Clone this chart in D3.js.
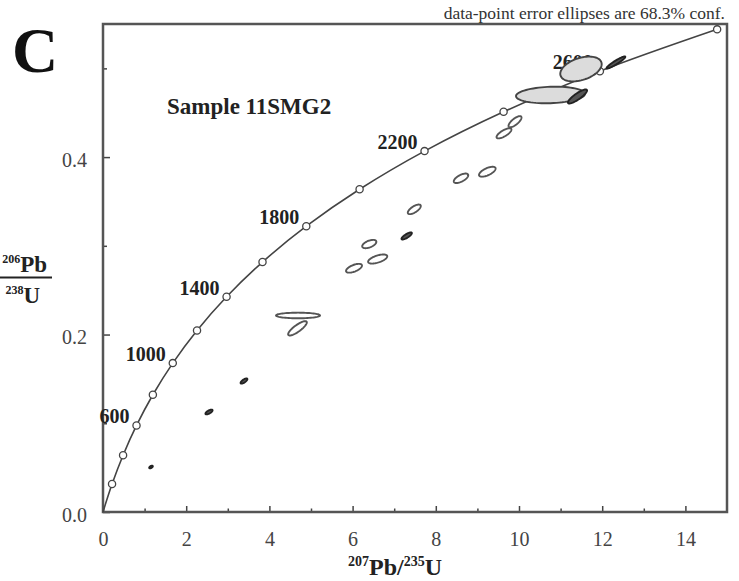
<!DOCTYPE html>
<html>
<head>
<meta charset="utf-8">
<script src="https://cdn.jsdelivr.net/npm/d3@7"></script>
<style>
  body { margin: 0; background: #fff; }
  svg { display: block; font-family: "Liberation Serif", "Times New Roman", serif; }
</style>
</head>
<body>
<svg id="chart"></svg>
<script>
// Set up the chart dimensions
const width = 739;
const height = 581;
const margin = { top: 24, right: 12, bottom: 69, left: 103 };

// Axis ticks
const xMajorTicks = [0, 2, 4, 6, 8, 10, 12, 14];
const xMinorTicks = [1, 3, 5, 7, 9, 11, 13];
const yMajorTicks = [0, 0.2, 0.4];
const yMinorTicks = [0.1, 0.3, 0.5];

// Concordia age marks (Ma) and their ratios
const ages = [0, 200, 400, 600, 800, 1000, 1200, 1400, 1600, 1800, 2000, 2200, 2400, 2600, 2800];
const pb207u235 = [0, 0.2177, 0.4828, 0.8057, 1.1988, 1.6774, 2.2603, 2.9703, 3.8345, 4.8868, 6.1683, 7.7292, 9.6299, 11.944, 14.763];
const pb206u238 = [0, 0.03151, 0.06402, 0.09754, 0.13213, 0.16781, 0.2046, 0.24257, 0.28172, 0.32211, 0.36377, 0.40675, 0.45108, 0.4968, 0.54399];
const labelledAges = [600, 1000, 1400, 1800, 2200, 2600];

// Zircon analyses: ratios, 1s errors, error correlation, group
const spot75 = [1.154, 2.548, 3.389, 4.688, 4.675, 6.034, 6.401, 6.603, 7.300, 7.483, 8.606, 9.238, 9.639, 9.904, 10.757, 11.406, 11.49, 12.33];
const spot75Err = [0.0433, 0.0852, 0.0814, 0.529, 0.2248, 0.1918, 0.170, 0.230, 0.1245, 0.156, 0.1738, 0.1993, 0.179, 0.156, 0.829, 0.230, 0.498, 0.2255];
const spot68 = [0.0507, 0.1127, 0.1476, 0.2215, 0.2070, 0.2747, 0.3020, 0.2851, 0.3111, 0.3411, 0.3761, 0.3835, 0.4268, 0.4399, 0.4700, 0.4683, 0.4993, 0.5066];
const spot68Err = [0.00149, 0.00269, 0.00293, 0.00316, 0.00807, 0.00497, 0.00468, 0.00512, 0.00398, 0.00541, 0.00535, 0.00559, 0.00571, 0.00625, 0.00933, 0.00793, 0.01397, 0.0068];
const spotRho = [0.545, 0.704, 0.733, 0.0, 0.829, 0.605, 0.537, 0.594, 0.805, 0.692, 0.641, 0.640, 0.739, 0.745, 0.137, 0.859, 0.390, 0.935];
const spotGroup = ["dark", "dark", "dark", "open", "open", "open", "open", "open", "dark", "open", "open", "open", "open", "open", "grey", "dark", "grey", "dark"];

const svg = d3.select("#chart").attr("width", width).attr("height", height);

const x = d3.scaleLinear().domain([0, 15]).range([margin.left, width - margin.right]);
const y = d3.scaleLinear().domain([0, 0.55]).range([height - margin.bottom, margin.top]);

// Axes with inward ticks
const xAxisMinor = d3.axisBottom(x).tickValues(xMinorTicks).tickSize(-3.5).tickFormat("");
const xAxisMajor = d3.axisBottom(x).tickValues(xMajorTicks).tickSize(-6).tickPadding(20).tickFormat(d3.format("d"));
const yAxisMinor = d3.axisLeft(y).tickValues(yMinorTicks).tickSize(-4).tickFormat("");
const yAxisMajor = d3.axisLeft(y).tickValues(yMajorTicks).tickSize(-7).tickPadding(16).tickFormat(d3.format(".1f"));

[xAxisMinor, xAxisMajor].forEach((ax) => {
  svg.append("g").attr("class", "axis").attr("transform", `translate(0,${y(0)})`).call(ax);
});
[yAxisMinor, yAxisMajor].forEach((ax) => {
  svg.append("g").attr("class", "axis").attr("transform", `translate(${x(0)},0)`).call(ax);
});

svg.selectAll(".axis").attr("font-family", null).attr("font-size", null);
svg.selectAll(".domain").remove();
svg.selectAll(".tick line").attr("stroke", "#444").attr("stroke-width", 1.5);
svg.selectAll(".tick text").attr("fill", "#444").style("font-size", "20px");
svg.selectAll(".tick text").filter(function () { return this.getAttribute("dy") === "0.32em"; }).attr("dy", "0.47em");

// Plot frame
svg.append("rect")
  .attr("x", x(0))
  .attr("y", y(0.55))
  .attr("width", x(15) - x(0))
  .attr("height", y(0) - y(0.55))
  .attr("fill", "none")
  .attr("stroke", "#555")
  .attr("stroke-width", 2.5);

// Concordia curve
const concordia = ages.map((a, i) => ({ age: a, x: pb207u235[i], y: pb206u238[i] }));
svg.append("path")
  .datum(concordia)
  .attr("fill", "none")
  .attr("stroke", "#444")
  .attr("stroke-width", 1.6)
  .attr("d", d3.line().x((d) => x(d.x)).y((d) => y(d.y)).curve(d3.curveCatmullRom));

svg.selectAll(".mark")
  .data(concordia.slice(1))
  .enter()
  .append("circle")
  .attr("class", "mark")
  .attr("cx", (d) => x(d.x))
  .attr("cy", (d) => y(d.y))
  .attr("r", 3.6)
  .attr("fill", "#fff")
  .attr("stroke", "#444")
  .attr("stroke-width", 1.3);

svg.selectAll(".age")
  .data(concordia.filter((d) => labelledAges.includes(d.age)))
  .enter()
  .append("text")
  .attr("class", "age")
  .attr("x", (d) => x(d.x) - 7)
  .attr("y", (d) => y(d.y) - 2)
  .attr("text-anchor", "end")
  .style("font-size", "20px")
  .style("font-weight", "bold")
  .attr("fill", "#222")
  .text((d) => d.age);

// Error ellipses
const spots = spot75.map((v, i) => ({
  x: v, sx: spot75Err[i], y: spot68[i], sy: spot68Err[i], rho: spotRho[i], group: spotGroup[i]
}));
const ellipse = (d) => {
  const pts = d3.range(0, 72).map((k) => {
    const t = (k / 72) * 2 * Math.PI;
    const u = Math.cos(t);
    const v = Math.sin(t);
    return [x(d.x + d.sx * u), y(d.y + d.sy * (d.rho * u + Math.sqrt(1 - d.rho * d.rho) * v))];
  });
  return d3.line().curve(d3.curveLinearClosed)(pts);
};
const fills = { open: "#fff", grey: "#dcdcdc", dark: "#555" };
const strokes = { open: "#555", grey: "#444", dark: "#222" };

svg.selectAll(".spot")
  .data(spots)
  .enter()
  .append("path")
  .attr("class", "spot")
  .attr("d", ellipse)
  .attr("fill", (d) => fills[d.group])
  .attr("stroke", (d) => strokes[d.group])
  .attr("stroke-width", 1.9);

// Labels
svg.append("text")
  .attr("x", 167)
  .attr("y", 114)
  .style("font-size", "23px")
  .style("font-weight", "bold")
  .attr("fill", "#222")
  .text("Sample 11SMG2");

svg.append("text")
  .attr("x", 12)
  .attr("y", 72)
  .style("font-size", "64px")
  .style("font-weight", "bold")
  .attr("fill", "#111")
  .text("C");

svg.append("text")
  .attr("x", 725)
  .attr("y", 19)
  .attr("text-anchor", "end")
  .style("font-size", "17.5px")
  .attr("fill", "#333")
  .text("data-point error ellipses are 68.3% conf.");

// Y axis label as a fraction
const yTop = svg.append("text").attr("x", 47).attr("y", 272).attr("text-anchor", "end")
  .style("font-weight", "bold").attr("fill", "#222");
yTop.append("tspan").style("font-size", "12px").attr("dy", -9).text("206");
yTop.append("tspan").style("font-size", "23px").attr("dy", 9).text("Pb");
svg.append("line").attr("x1", -2).attr("x2", 52).attr("y1", 277.5).attr("y2", 277.5)
  .attr("stroke", "#222").attr("stroke-width", 2);
const yBot = svg.append("text").attr("x", 40).attr("y", 303).attr("text-anchor", "end")
  .style("font-weight", "bold").attr("fill", "#222");
yBot.append("tspan").style("font-size", "12px").attr("dy", -9).text("238");
yBot.append("tspan").style("font-size", "23px").attr("dy", 9).text("U");

// X axis label
const xLab = svg.append("text").attr("x", 395).attr("y", 575).attr("text-anchor", "middle")
  .style("font-weight", "bold").attr("fill", "#222");
xLab.append("tspan").style("font-size", "14px").attr("dy", -9).text("207");
xLab.append("tspan").style("font-size", "24px").attr("dy", 9).text("Pb/");
xLab.append("tspan").style("font-size", "14px").attr("dy", -9).text("235");
xLab.append("tspan").style("font-size", "24px").attr("dy", 9).text("U");
</script>
</body>
</html>
